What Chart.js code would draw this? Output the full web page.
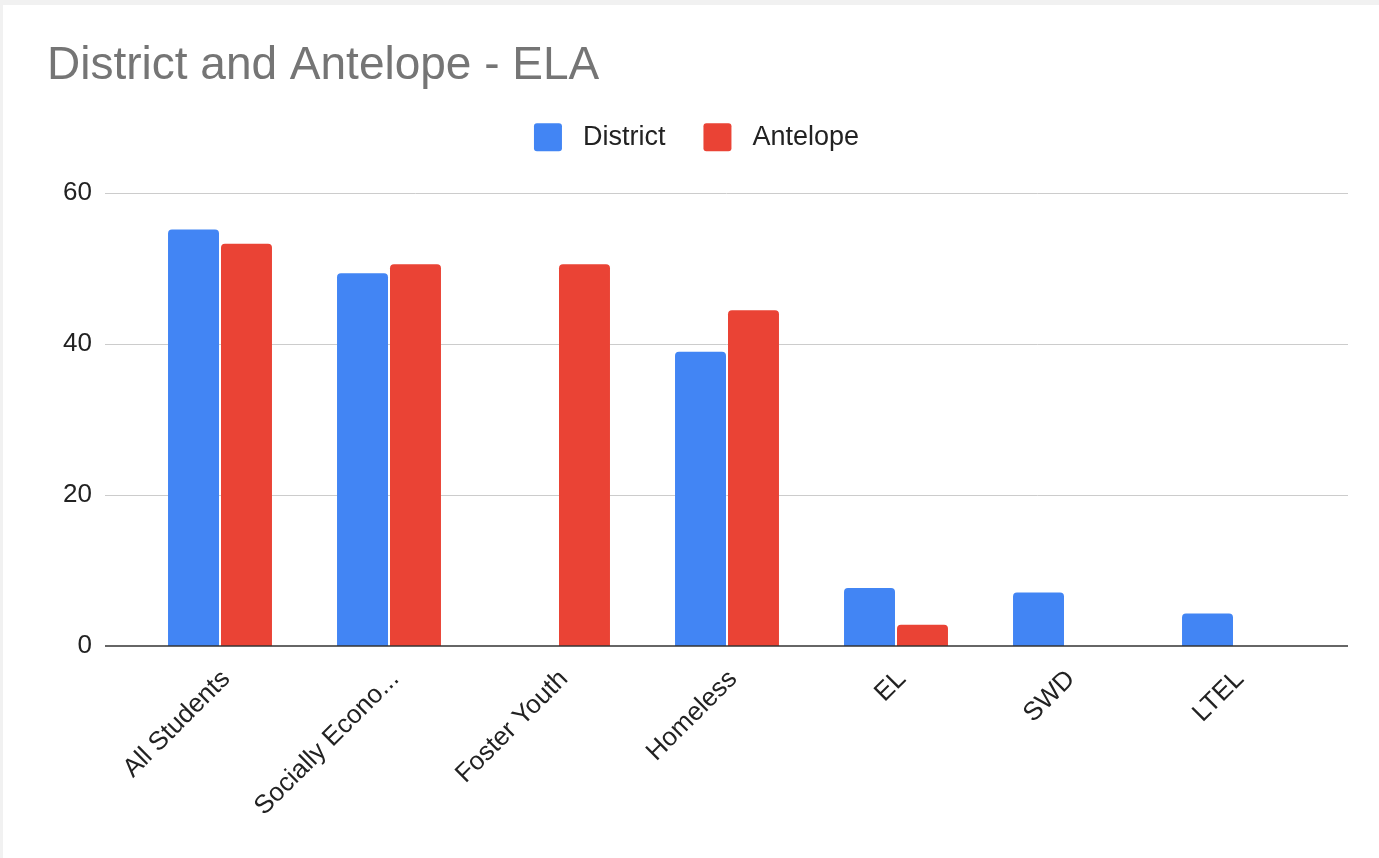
<!DOCTYPE html>
<html>
<head>
<meta charset="utf-8">
<script src="https://cdn.jsdelivr.net/npm/chart.js@4"></script>
<style>
  html, body { margin: 0; padding: 0; background: #f1f1f1; }
  #card { position: absolute; left: 3px; top: 5px; width: 1376px; height: 853px; background: #fff; }
</style>
</head>
<body>
<div id="card"><canvas id="chart" width="1376" height="853"></canvas></div>
<script>
const categories = ['All Students', 'Socially Econo...', 'Foster Youth', 'Homeless', 'EL', 'SWD', 'LTEL'];
const districtValues = [55.2, 49.4, null, 39.0, 7.7, 7.1, 4.3];
const antelopeValues = [53.3, 50.6, 50.6, 44.5, 2.8, null, null];
const yTicks = [0, 20, 40, 60];

const FONT = "'Liberation Sans', Arial, sans-serif";

// google-style grid lines that run past the bar area
const wideGrid = {
  id: 'wideGrid',
  beforeDatasetsDraw(chart) {
    const ctx = chart.ctx, y = chart.scales.y;
    ctx.save();
    ctx.strokeStyle = '#cccccc';
    ctx.lineWidth = 1;
    yTicks.forEach(v => {
      if (v === 0) return;
      const py = Math.round(y.getPixelForValue(v)) + 0.5;
      ctx.beginPath();
      ctx.moveTo(102, py);
      ctx.lineTo(1345, py);
      ctx.stroke();
    });
    ctx.restore();
  },
  afterDatasetsDraw(chart) {
    const ctx = chart.ctx, y = chart.scales.y;
    const py = y.getPixelForValue(0);
    ctx.save();
    ctx.strokeStyle = '#333333';
    ctx.lineWidth = 1.5;
    ctx.beginPath();
    ctx.moveTo(102, py);
    ctx.lineTo(1345, py);
    ctx.stroke();
    ctx.restore();
  }
};

new Chart(document.getElementById('chart'), {
  type: 'bar',
  data: {
    labels: categories,
    datasets: [
      {
        label: 'District',
        data: districtValues,
        backgroundColor: '#4285F4',
        borderRadius: { topLeft: 4, topRight: 4 },
        borderSkipped: 'start'
      },
      {
        label: 'Antelope',
        data: antelopeValues,
        backgroundColor: '#EA4335',
        borderRadius: { topLeft: 4, topRight: 4 },
        borderSkipped: 'start'
      }
    ]
  },
  options: {
    responsive: false,
    animation: false,
    categoryPercentage: 0.627,
    barPercentage: 0.962,
    layout: { padding: { left: 44, right: 33, top: 0, bottom: 0 } },
    plugins: {
      tooltip: { enabled: false },
      title: {
        display: true,
        text: 'District and Antelope - ELA',
        align: 'start',
        color: '#757575',
        font: { family: FONT, size: 46, weight: 'normal' },
        padding: { top: 34, bottom: -9 }
      },
      legend: {
        display: true,
        position: 'top',
        labels: {
          color: '#222222',
          font: { family: FONT, size: 27 },
          boxWidth: 28,
          boxHeight: 28,
          padding: 38,
          useBorderRadius: true,
          borderRadius: 3,
          generateLabels(chart) {
            return Chart.defaults.plugins.legend.labels.generateLabels(chart)
              .map(item => Object.assign(item, { text: ' ' + item.text }));
          }
        }
      }
    },
    scales: {
      x: {
        grid: { display: false, drawTicks: false },
        border: { display: false },
        ticks: {
          color: '#222222',
          font: { family: FONT, size: 26 },
          maxRotation: 45,
          minRotation: 45,
          autoSkip: false,
          padding: 18,
          labelOffset: 6
        },
        afterFit(scale) { scale.height = 212; }
      },
      xTop: {
        type: 'category',
        position: 'top',
        labels: categories,
        grid: { display: false, drawTicks: false },
        border: { display: false },
        ticks: { display: false },
        afterFit(scale) { scale.height = 32; }
      },
      y: {
        min: 0,
        max: 60,
        grid: { display: false, drawTicks: false },
        border: { display: false },
        ticks: {
          stepSize: 20,
          color: '#222222',
          font: { family: FONT, size: 26 },
          padding: 43.5
        },
        afterFit(scale) { scale.width = 88.5; }
      },
      yRight: {
        position: 'right',
        min: 0,
        max: 60,
        grid: { display: false, drawTicks: false },
        border: { display: false },
        ticks: { display: false },
        afterFit(scale) { scale.width = 27.5; }
      }
    }
  },
  plugins: [wideGrid]
});
</script>
</body>
</html>
